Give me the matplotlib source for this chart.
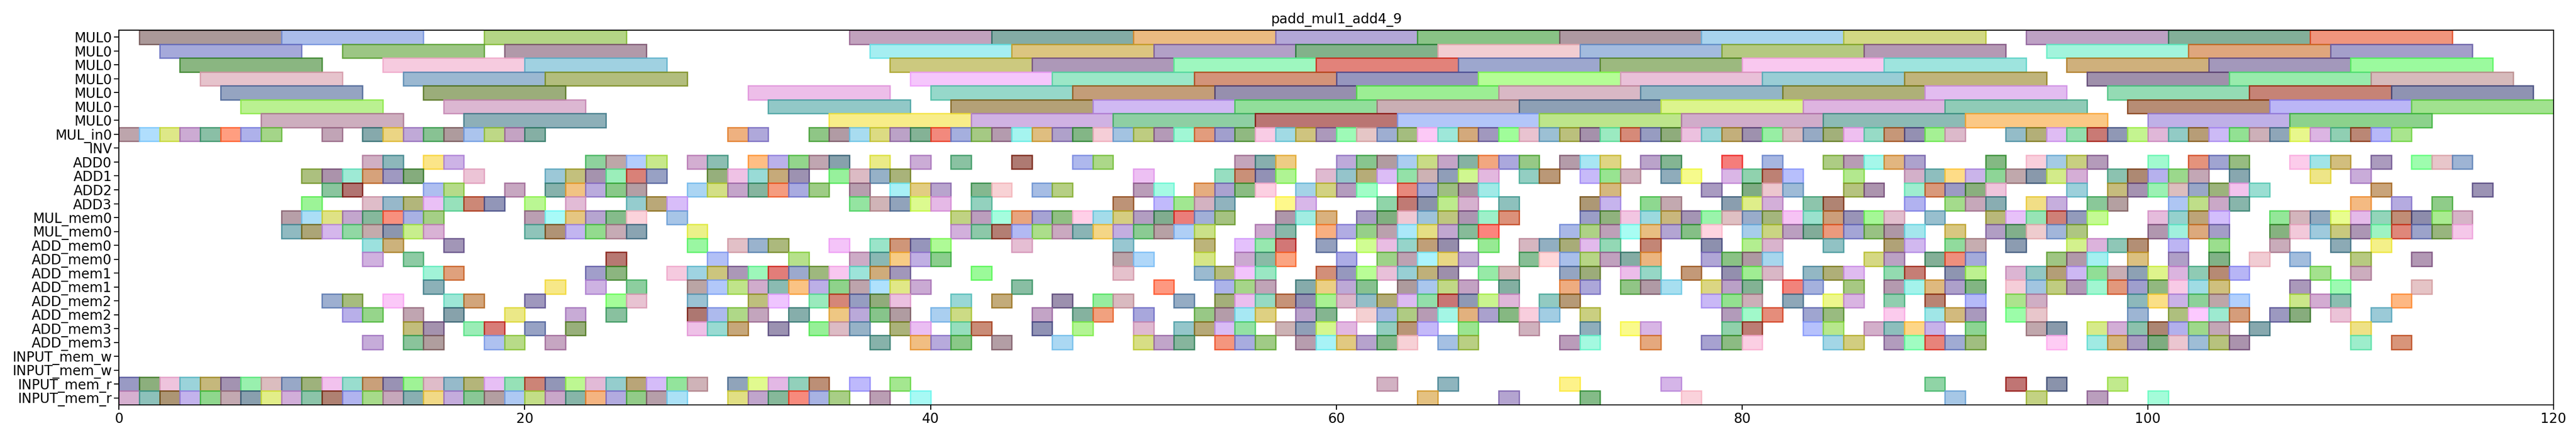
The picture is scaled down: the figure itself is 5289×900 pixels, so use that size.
"""
Schedule chart for padd_mul1_add4_9: one row per resource, one box per busy cycle.
"""
import colorsys

import matplotlib
matplotlib.use("Agg")
import matplotlib.pyplot as plt

TITLE = "padd_mul1_add4_9"
X_MAX = 120
MUL_LEN = 7
OP_LEN = 1


def span(a, b):
    return list(range(a, b + 1))


row_labels = (["MUL0"] * 7 + ["MUL_in0", "INV", "ADD0", "ADD1", "ADD2", "ADD3"]
              + ["MUL_mem0"] * 2 + ["ADD_mem0"] * 2 + ["ADD_mem1"] * 2
              + ["ADD_mem2"] * 2 + ["ADD_mem3"] * 2 + ["INPUT_mem_w"] * 2
              + ["INPUT_mem_r"] * 2)

# start cycles of the 7-cycle multiplications, one list per MUL0 lane
mul_lanes = [
    [1, 8, 18, 36, 43, 50, 57, 64, 71, 78, 85, 94, 101, 108],
    [2, 11, 19, 37, 44, 51, 58, 65, 72, 79, 86, 95, 102, 109],
    [3, 13, 20, 38, 45, 52, 59, 66, 73, 80, 87, 96, 103, 110],
    [4, 14, 21, 39, 46, 53, 60, 67, 74, 81, 88, 97, 104, 111],
    [5, 15, 31, 40, 47, 54, 61, 68, 75, 82, 89, 98, 105, 112],
    [6, 16, 32, 41, 48, 55, 62, 69, 76, 83, 90, 99, 106, 113],
    [7, 17, 35, 42, 49, 56, 63, 70, 77, 84, 91, 100, 107],
]

mul_in0 = span(0, 7) + [10] + span(12, 20) + [30, 31] + span(34, 90) + span(93, 112)
inv = []
add0 = [12, 13, 15, 16, 23, 24, 25, 26, 28, 29, 31, 32, 33, 34, 35, 37, 39, 41, 44, 47,
        48, 55, 56, 57] + span(60, 69) + [71, 72, 73, 75, 76, 79, 81, 84, 85, 86, 87,
        88, 92, 94, 95, 96, 97, 100, 102, 103, 104, 107, 108, 109, 111, 113, 114, 115]
add1 = (span(9, 14) + [17] + span(21, 26) + span(29, 33) + [35, 36, 37, 38, 50]
        + span(54, 57) + span(59, 67) + [69, 70, 72, 73, 74, 76, 77, 79, 80, 81, 82, 85]
        + span(88, 96) + [98, 99, 100, 101, 102, 104, 108, 110])
add2 = ([10, 11, 15, 16, 19] + span(21, 25) + span(28, 34)
        + [36, 38, 39, 40, 42, 43, 45, 46, 50, 51, 53, 54, 55, 56, 58, 59, 60, 61]
        + span(63, 67) + [73, 78, 80, 81, 82, 85, 86] + span(88, 92) + [96]
        + span(98, 105) + [111, 116])
add3 = ([9] + span(12, 18) + [20, 22, 25, 26, 27] + span(36, 40) + [42, 49]
        + span(51, 54) + [57, 58] + span(62, 66) + [68, 72, 73, 75, 76, 79, 80, 81,
        83, 84, 88, 90, 91, 92, 94, 95, 97, 98] + span(101, 104) + [110, 112, 114])
mul_mem0_a = (span(8, 15) + span(20, 25) + [27] + span(41, 54) + [57, 58, 59]
              + span(61, 68) + span(72, 87) + [89] + span(92, 97) + span(100, 103)
              + span(106, 115))
mul_mem0_b = (span(8, 15) + span(20, 25) + [28] + span(41, 53) + [56, 57]
              + span(59, 67) + span(71, 78) + span(80, 88) + [90] + span(92, 96)
              + span(100, 103) + span(106, 115))
add_mem0_a = ([12, 13, 16, 28, 30, 31, 32, 35] + span(37, 40) + [44, 49, 53, 55, 56,
              57, 59] + span(61, 65) + [67] + span(69, 73) + [75, 78, 80, 81, 84, 87,
              88, 90, 91, 93] + span(96, 99) + [101, 103, 106, 109, 111])
add_mem0_b = ([12, 14, 24, 29, 33] + span(36, 40) + [49, 50, 53, 55, 56, 57, 60]
              + span(62, 66) + span(69, 75) + span(78, 81) + [86, 87, 89, 90, 91, 95,
              96, 97, 99, 101, 103, 105, 107, 110, 113])
add_mem1_a = ([15, 16, 23, 24] + span(27, 38) + [42, 49] + span(53, 56) + span(59, 65)
              + [67, 68, 71, 72, 74, 75, 77, 79, 80, 81, 83, 84, 85, 87, 88, 90, 91]
              + span(93, 104) + [108, 110])
add_mem1_b = ([15, 21, 23, 25] + span(28, 39) + [44, 51, 54, 55, 56] + span(58, 61)
              + span(63, 66) + [68, 71, 72, 74, 75, 76, 78, 79, 80, 82, 83, 85]
              + span(87, 91) + span(93, 103) + [107, 109, 113])
add_mem2_a = ([10, 11, 13, 16, 17, 20, 24, 25, 28, 31, 32] + span(34, 38)
              + [41, 43, 46, 48, 49, 52] + span(54, 68) + [70, 71, 78, 79, 80, 82, 84,
              85, 87, 89, 91, 93, 94] + span(99, 104) + [107, 108, 109, 112])
add_mem2_b = ([11, 12, 14, 16, 19, 22, 24] + span(28, 31) + [33] + span(35, 38)
              + [40, 41, 45, 47, 48, 50] + span(53, 56) + [58, 59] + span(61, 70)
              + [72, 79, 80, 81, 83, 84, 87, 89, 90, 91, 93, 94, 99] + span(101, 104)
              + [106, 107, 109, 111])
add_mem3_a = ([14, 15, 17, 18, 20, 22, 28, 29, 30, 32, 34, 35, 36, 38, 39, 41, 42, 45,
              47, 50, 52, 53, 54, 55, 57, 58, 59, 60, 62, 63, 64, 66, 69, 72, 74, 75,
              79, 80, 83, 84] + span(86, 89) + [91, 94, 95] + span(97, 103) + [105, 110])
add_mem3_b = ([12, 14, 15, 18, 19, 21, 37, 39, 40, 41, 43, 46, 50, 51, 52, 54, 55, 56]
              + span(58, 63) + [65, 66, 71, 72, 75, 78, 79, 80, 84, 85] + span(87, 91)
              + [95] + span(97, 104) + [110, 112])
input_mem_w_a = []
input_mem_w_b = []
input_mem_r_a = span(0, 28) + span(30, 34) + [36, 38, 62, 65, 71, 76, 89, 93, 95, 98]
input_mem_r_b = span(0, 27) + span(30, 35) + [37, 39, 64, 68, 72, 77, 90, 94, 97, 100]

single_rows = [mul_in0, inv, add0, add1, add2, add3, mul_mem0_a, mul_mem0_b,
               add_mem0_a, add_mem0_b, add_mem1_a, add_mem1_b, add_mem2_a, add_mem2_b,
               add_mem3_a, add_mem3_b, input_mem_w_a, input_mem_w_b,
               input_mem_r_a, input_mem_r_b]


def box_colour(k):
    # deterministic spread of hues / tones so neighbouring boxes differ
    h = (k * 0.618034) % 1.0
    s = 0.25 + 0.6 * ((k * 0.381966) % 1.0)
    v = 0.45 + 0.55 * ((k * 0.7548777) % 1.0)
    return colorsys.hsv_to_rgb(h, s, v)


def main():
    plt.rcParams["font.family"] = ["DejaVu Sans"]
    fig = plt.figure(figsize=(52.89, 9.0), dpi=100)
    ax = fig.add_axes([0.0462, 0.0756, 0.9451, 0.8554])

    k = 0
    for lane, starts in enumerate(mul_lanes):
        for s in starts:
            c = box_colour(k)
            k += 1
            ax.barh(lane, MUL_LEN, left=s, height=1.0, color=(*c, 0.6),
                    edgecolor=(*c, 0.9), linewidth=2.0)
    for i, starts in enumerate(single_rows):
        row = len(mul_lanes) + i
        for s in starts:
            c = box_colour(k)
            k += 1
            ax.barh(row, OP_LEN, left=s, height=1.0, color=(*c, 0.6),
                    edgecolor=(*c, 0.9), linewidth=2.0)

    ax.set_xlim(0, X_MAX)
    ax.set_ylim(len(row_labels) - 0.5, -0.5)
    ax.set_yticks(range(len(row_labels)))
    ax.set_yticklabels(row_labels)
    ax.set_xticks([0, 20, 40, 60, 80, 100, 120])
    ax.tick_params(labelsize=20, length=7, width=1.5)
    for sp in ax.spines.values():
        sp.set_linewidth(1.5)
    ax.set_title(TITLE, fontsize=20, pad=10)

    fig.savefig("out.png", dpi=100)
    plt.close(fig)


if __name__ == "__main__":
    main()
